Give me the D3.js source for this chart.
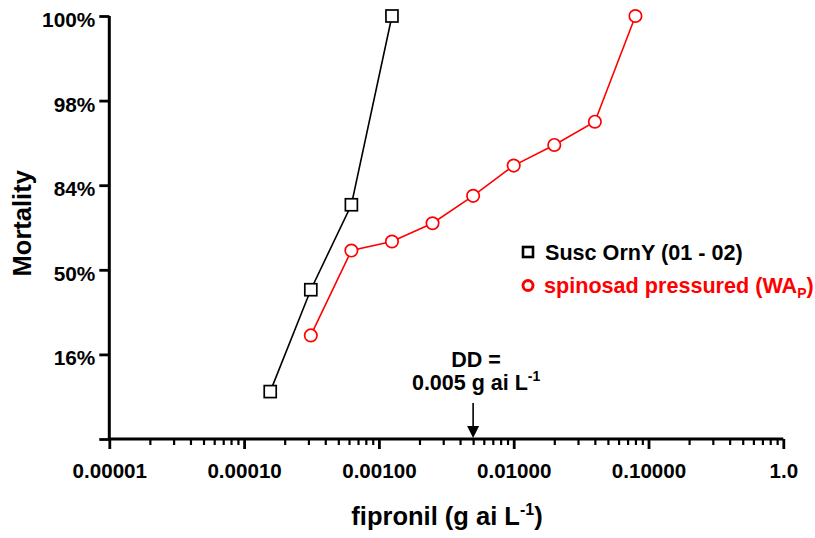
<!DOCTYPE html>
<html>
<head>
<meta charset="utf-8">
<script src="https://cdn.jsdelivr.net/npm/d3@7"></script>
<style>
  html, body { margin: 0; padding: 0; background: #fff; }
  svg { display: block; font-family: "Liberation Sans", Arial, sans-serif; font-weight: bold; }
</style>
</head>
<body>
<svg id="chart" width="815" height="538"></svg>
<script>
// ---- data ----
const suscDose = [0.00015625, 0.0003125, 0.000625, 0.00125];
const suscMortality = [7.5, 40.7, 77.9, 100];
const spinDose = [0.0003125, 0.000625, 0.00125, 0.0025, 0.005, 0.01, 0.02, 0.04, 0.08];
const spinMortality = [21.9, 59.0, 63.1, 70.9, 80.9, 89.1, 93.0, 96.0, 100];
const xTickValues = [0.00001, 0.0001, 0.001, 0.01, 0.1, 1];
const xTickLabels = ["0.00001", "0.00010", "0.00100", "0.01000", "0.10000", "1.0"];
const yTickProbits = [-2, -1, 0, 1, 2, 3];
const yTickLabels = ["", "16%", "50%", "84%", "98%", "100%"];
const seriesNames = ["Susc OrnY (01 - 02)", "spinosad pressured (WA"];
const ddValue = 0.005;

// inverse normal CDF (Acklam)
function probit(p) {
  const a = [-3.969683028665376e+01, 2.209460984245205e+02, -2.759285104469687e+02, 1.383577518672690e+02, -3.066479806614716e+01, 2.506628277459239e+00];
  const b = [-5.447609879822406e+01, 1.615858368580409e+02, -1.556989798598866e+02, 6.680131188771972e+01, -1.328068155288572e+01];
  const c = [-7.784894002430293e-03, -3.223964580411365e-01, -2.400758277161838e+00, -2.549671664837130e+00, 4.374587005575688e+00, 2.938163982698783e+00];
  const d = [7.784695709041462e-03, 3.224671290700398e-01, 2.445134137142996e+00, 3.754408661907416e+00];
  const pl = 0.02425;
  let q, r;
  if (p < pl) { q = Math.sqrt(-2 * Math.log(p)); return (((((c[0]*q+c[1])*q+c[2])*q+c[3])*q+c[4])*q+c[5]) / ((((d[0]*q+d[1])*q+d[2])*q+d[3])*q+1); }
  if (p <= 1 - pl) { q = p - 0.5; r = q*q; return (((((a[0]*r+a[1])*r+a[2])*r+a[3])*r+a[4])*r+a[5])*q / (((((b[0]*r+b[1])*r+b[2])*r+b[3])*r+b[4])*r+1); }
  q = Math.sqrt(-2 * Math.log(1 - p)); return -(((((c[0]*q+c[1])*q+c[2])*q+c[3])*q+c[4])*q+c[5]) / ((((d[0]*q+d[1])*q+d[2])*q+d[3])*q+1);
}
const toProbit = m => Math.min(3, probit(Math.min(m, 99.99) / 100));

// ---- layout ----
const svg = d3.select("#chart");
const margin = { left: 109.3, right: 31.7, top: 16, bottom: 99 };
const W = 815, H = 538;
const x = d3.scaleLog().domain([0.00001, 1]).range([margin.left, W - margin.right]);
const y = d3.scaleLinear().domain([-2, 3]).range([H - margin.bottom, margin.top]);

// ---- x axis ----
const gx = svg.append("g").attr("transform", `translate(0,${y(-2)})`);
const minor = [];
for (let e = -5; e < 0; e++) for (let k = 2; k <= 9; k++) minor.push(k * Math.pow(10, e));
gx.append("g").call(d3.axisBottom(x).tickValues(minor).tickSize(6).tickFormat(""))
  .call(g => g.select(".domain").remove())
  .selectAll("line").attr("stroke", "#000").attr("stroke-width", 2.2);
const gxMajor = gx.append("g").call(d3.axisBottom(x).tickValues(xTickValues).tickSize(10).tickSizeOuter(0)
  .tickFormat((d, i) => xTickLabels[i]).tickPadding(14));
gxMajor.select(".domain").attr("stroke", "#000").attr("stroke-width", 3).attr("d", `M${x(0.00001)},0H${x(1)}`);
gxMajor.selectAll("line").attr("stroke", "#000").attr("stroke-width", 2.8);
gxMajor.selectAll("text").attr("font-size", 20.6).attr("font-weight", "bold").attr("fill", "#000")
  .attr("font-family", "Liberation Sans, Arial, sans-serif");

// ---- y axis ----
const gy = svg.append("g").attr("transform", `translate(${x(0.00001)},0)`);
gy.call(d3.axisLeft(y).tickValues(yTickProbits).tickSize(10).tickSizeOuter(0)
  .tickFormat((d, i) => yTickLabels[i]).tickPadding(4));
gy.select(".domain").attr("stroke", "#000").attr("stroke-width", 3).attr("d", `M0,${y(-2)}V${y(3)}`);
gy.selectAll("line").attr("stroke", "#000").attr("stroke-width", 2.8);
gy.selectAll("text").attr("font-size", 20.8).attr("font-weight", "bold").attr("fill", "#000")
  .attr("dy", "0.5em").attr("font-family", "Liberation Sans, Arial, sans-serif");

// ---- axis titles ----
svg.append("text").attr("transform", `translate(31,${y(0.55)}) rotate(-90)`)
  .attr("text-anchor", "middle").attr("font-size", 25.5).text("Mortality");
const xt = svg.append("text").attr("x", 447).attr("y", 525).attr("text-anchor", "middle").attr("font-size", 25.5);
xt.append("tspan").text("fipronil (g ai L");
xt.append("tspan").attr("font-size", 16).attr("dy", -10).text("-1");
xt.append("tspan").attr("dy", 10).text(")");

// ---- series ----
const line = d3.line().x(d => x(d[0])).y(d => y(toProbit(d[1])));
const susc = suscDose.map((d, i) => [d, suscMortality[i]]);
const spin = spinDose.map((d, i) => [d, spinMortality[i]]);

svg.append("path").datum(susc).attr("d", line).attr("fill", "none").attr("stroke", "#000").attr("stroke-width", 1.6);
svg.append("path").datum(spin).attr("d", line).attr("fill", "none").attr("stroke", "#ff0000").attr("stroke-width", 1.6);

const sq = 12;
svg.selectAll("rect.susc").data(susc).enter().append("rect").attr("class", "susc")
  .attr("x", d => x(d[0]) - sq / 2).attr("y", d => y(toProbit(d[1])) - sq / 2)
  .attr("width", sq).attr("height", sq).attr("fill", "#fff").attr("stroke", "#000").attr("stroke-width", 1.7);
svg.selectAll("circle.spin").data(spin).enter().append("circle").attr("class", "spin")
  .attr("cx", d => x(d[0])).attr("cy", d => y(toProbit(d[1]))).attr("r", 6.2)
  .attr("fill", "#fff").attr("stroke", "#ff0000").attr("stroke-width", 1.7);

// ---- legend ----
svg.append("rect").attr("x", 523).attr("y", 247).attr("width", 10).attr("height", 10)
  .attr("fill", "none").attr("stroke", "#000").attr("stroke-width", 2.6);
svg.append("text").attr("x", 545).attr("y", 252).attr("dy", "0.35em").attr("font-size", 21.6).attr("fill", "#000").text(seriesNames[0]);
svg.append("circle").attr("cx", 528).attr("cy", 285.5).attr("r", 5).attr("fill", "none").attr("stroke", "#ff0000").attr("stroke-width", 3);
const lt = svg.append("text").attr("x", 544).attr("y", 285.5).attr("dy", "0.35em").attr("font-size", 21.6).attr("fill", "#ff0000");
lt.append("tspan").text(seriesNames[1]);
lt.append("tspan").attr("font-size", 14).attr("dy", 5).text("P");
lt.append("tspan").attr("dy", -5).text(")");

// ---- DD annotation ----
const ddx = x(ddValue);
svg.append("text").attr("x", ddx + 3).attr("y", 367).attr("text-anchor", "middle").attr("font-size", 21.5).text("DD =");
const dd2 = svg.append("text").attr("x", ddx + 3).attr("y", 390).attr("text-anchor", "middle").attr("font-size", 21.5);
dd2.append("tspan").text("0.005 g ai L");
dd2.append("tspan").attr("font-size", 14).attr("dy", -9).text("-1");
svg.append("line").attr("x1", ddx).attr("x2", ddx).attr("y1", 403).attr("y2", 428).attr("stroke", "#000").attr("stroke-width", 1.6);
svg.append("path").attr("d", `M${ddx - 6},${426}L${ddx + 6},${426}L${ddx},${y(-2) - 1}Z`).attr("fill", "#000");
</script>
</body>
</html>
